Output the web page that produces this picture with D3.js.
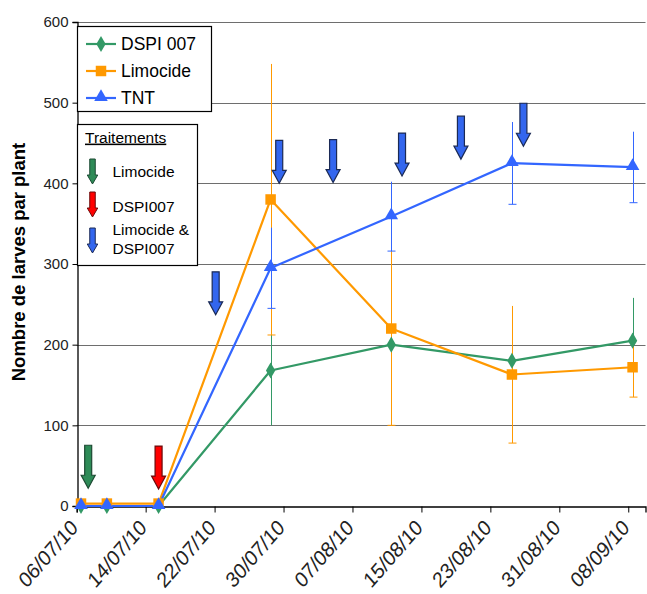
<!DOCTYPE html>
<html>
<head>
<meta charset="utf-8">
<script src="https://cdn.jsdelivr.net/npm/d3@7"></script>
<style>
  html, body { margin: 0; padding: 0; background: #fff; }
  svg { display: block; font-family: "Liberation Sans", Arial, sans-serif; }
</style>
</head>
<body>
<svg id="chart" width="647" height="594"></svg>
<script>
// Sampling dates and larvae counts per plant
const dates = ["2010-07-06", "2010-07-09", "2010-07-15", "2010-07-28", "2010-08-11", "2010-08-25", "2010-09-08"];
const dspi007 = [0, 0, 0, 168, 200, 180, 205];
const dspi007Err = [0, 0, 0, 68, 0, 0, 53];
const limocide = [3, 3, 3, 380, 220, 163, 172];
const limocideErr = [0, 0, 0, 168, 120, 85, 37];
const tnt = [0, 0, 0, 295, 359, 425, 420];
const tntErr = [0, 0, 0, 50, 43, 51, 44];

// Axis ticks
const xTickDates = ["2010-07-06", "2010-07-14", "2010-07-22", "2010-07-30", "2010-08-07", "2010-08-15", "2010-08-23", "2010-08-31", "2010-09-08"];
const yTicks = [0, 100, 200, 300, 400, 500, 600];

// Treatment applications: date/time of arrow and the count level its tip points at
const treatLimocide = [{ t: "2010-07-07T08:00", v: 22 }];
const treatDspi = [{ t: "2010-07-15T12:00", v: 21 }];
const treatBoth = [
  { t: "2010-07-22T03:00", v: 237 },
  { t: "2010-07-29T12:00", v: 400 },
  { t: "2010-08-04T18:00", v: 401 },
  { t: "2010-08-12T18:00", v: 409 },
  { t: "2010-08-19T14:00", v: 430 },
  { t: "2010-08-26T20:00", v: 446 }
];

const seriesNames = ["DSPI 007", "Limocide", "TNT"];
const treatNames = ["Limocide", "DSPI007", "Limocide &", "DSPI007"];

const colors = { green: "#339966", orange: "#FF9900", blue: "#3366FF" };

const svg = d3.select("#chart");
const parse = d3.utcParse("%Y-%m-%d");
const parseT = d3.utcParse("%Y-%m-%dT%H:%M");
const fmt = d3.utcFormat("%d/%m/%y");

const x = d3.scaleUtc()
  .domain([parse("2010-07-06"), parse("2010-09-10")])
  .range([76.7, 645.5]);
const y = d3.scaleLinear().domain([0, 600]).range([506, 22]);

// points sit in the middle of their day
const px = d => x(d3.utcHour.offset(parse(d), 12));

// Horizontal gridlines
svg.append("g").selectAll("line")
  .data(yTicks.filter(v => v > 0))
  .join("line")
  .attr("x1", x.range()[0]).attr("x2", x.range()[1])
  .attr("y1", d => Math.round(y(d)) + 0.5).attr("y2", d => Math.round(y(d)) + 0.5)
  .attr("stroke", "#6e6e6e").attr("stroke-width", 1.2);

// Y axis
const yAxis = svg.append("g")
  .attr("transform", `translate(${Math.round(x.range()[0]) + 0.5},0)`)
  .call(d3.axisLeft(y).tickValues(yTicks).tickSize(5).tickPadding(4));
yAxis.select(".domain").attr("stroke", "#000").attr("stroke-width", 1.3);
yAxis.selectAll(".tick line").attr("stroke", "#000");
yAxis.selectAll(".tick text").attr("font-size", 15).attr("fill", "#222")
  .attr("font-family", "Liberation Sans, Arial, sans-serif");

// X axis
const xAxis = svg.append("g")
  .attr("transform", `translate(0,${Math.round(y(0)) + 0.5})`)
  .call(d3.axisBottom(x).tickValues(xTickDates.map(parse)).tickFormat(fmt).tickSize(6).tickPadding(6));
xAxis.select(".domain").attr("stroke", "#000").attr("stroke-width", 1.3);
xAxis.selectAll(".tick line").attr("stroke", "#000");
xAxis.selectAll(".tick text")
  .attr("font-size", 19).attr("fill", "#222")
  .attr("font-family", "Liberation Sans, Arial, sans-serif")
  .attr("text-anchor", "end")
  .attr("dy", "0.35em")
  .attr("transform", "translate(-3,17) scale(1,1.15) rotate(-45)")
  .attr("y", 0).attr("x", 0);

// Y axis title
svg.append("text")
  .attr("transform", `translate(25,${262}) rotate(-90)`)
  .attr("text-anchor", "middle")
  .attr("font-size", 18.5).attr("font-weight", "bold").attr("fill", "#000")
  .text("Nombre de larves par plant");

const series = [
  { name: seriesNames[0], vals: dspi007, err: dspi007Err, color: colors.green, sym: d3.symbolDiamond, size: 75, cap: false },
  { name: seriesNames[1], vals: limocide, err: limocideErr, color: colors.orange, sym: d3.symbolSquare, size: 110, cap: true },
  { name: seriesNames[2], vals: tnt, err: tntErr, color: colors.blue, sym: d3.symbolTriangle, size: 80, cap: true }
];

// Error bars (cap on the lower end only)
series.forEach(s => {
  const g = svg.append("g").attr("stroke", s.color).attr("stroke-width", 1);
  dates.forEach((d, i) => {
    if (!s.err[i]) return;
    const cx = Math.round(px(d)) + 0.5;
    const y1 = y(s.vals[i] - s.err[i]), y2 = y(s.vals[i] + s.err[i]);
    g.append("line").attr("x1", cx).attr("x2", cx).attr("y1", y1).attr("y2", y2);
    if (s.cap) g.append("line").attr("x1", cx - 4).attr("x2", cx + 4).attr("y1", y1).attr("y2", y1);
  });
});

// Lines
const line = d3.line().x((d, i) => px(dates[i])).y(d => y(d));
series.forEach(s => {
  svg.append("path").datum(s.vals)
    .attr("d", line).attr("fill", "none")
    .attr("stroke", s.color).attr("stroke-width", 2.2).attr("stroke-linejoin", "round");
});

// Markers
series.forEach(s => {
  svg.append("g").selectAll("path")
    .data(s.vals)
    .join("path")
    .attr("transform", (d, i) => `translate(${px(dates[i])},${y(d) + (s.sym === d3.symbolTriangle ? -1 : 0)})`)
    .attr("d", d3.symbol(s.sym, s.size))
    .attr("fill", s.color);
});

// Block arrow shape, tip at (0,0)
function arrowPath(len, shaft, head, headLen) {
  return `M${-shaft / 2},${-len} L${shaft / 2},${-len} L${shaft / 2},${-headLen} L${head / 2},${-headLen} L0,0 L${-head / 2},${-headLen} L${-shaft / 2},${-headLen} Z`;
}
const arrowStyles = {
  green: { fill: "#2E8B57", stroke: "#1d4a33" },
  red: { fill: "#FF0000", stroke: "#6b0a0a" },
  blue: { fill: "#3366EE", stroke: "#1b2a55" }
};
function drawArrows(list, style) {
  svg.append("g").selectAll("path")
    .data(list)
    .join("path")
    .attr("transform", d => `translate(${x(parseT(d.t))},${y(d.v)})`)
    .attr("d", arrowPath(43, 7, 14, 13))
    .attr("fill", style.fill).attr("stroke", style.stroke).attr("stroke-width", 1.2)
    .attr("stroke-linejoin", "miter");
}
drawArrows(treatLimocide, arrowStyles.green);
drawArrows(treatDspi, arrowStyles.red);
drawArrows(treatBoth, arrowStyles.blue);

// Series legend
const leg1 = svg.append("g");
leg1.append("rect").attr("x", 77.5).attr("y", 26.5).attr("width", 134).attr("height", 85)
  .attr("fill", "#fff").attr("stroke", "#000").attr("stroke-width", 1.2);
series.forEach((s, i) => {
  const cy = 44 + i * 27;
  leg1.append("line").attr("x1", 86).attr("x2", 116).attr("y1", cy).attr("y2", cy)
    .attr("stroke", s.color).attr("stroke-width", 2.2);
  leg1.append("path").attr("transform", `translate(101,${cy + (s.sym === d3.symbolTriangle ? -1 : 0)})`)
    .attr("d", d3.symbol(s.sym, s.size)).attr("fill", s.color);
  leg1.append("text").attr("x", 121).attr("y", cy).attr("dy", "0.36em")
    .attr("font-size", 17.5).attr("fill", "#000").text(s.name);
});

// Treatment legend
const leg2 = svg.append("g");
leg2.append("rect").attr("x", 77.5).attr("y", 124.5).attr("width", 120).attr("height", 141)
  .attr("fill", "#fff").attr("stroke", "#000").attr("stroke-width", 1.2);
leg2.append("text").attr("x", 85).attr("y", 137).attr("dy", "0.36em")
  .attr("font-size", 15.5).attr("fill", "#000")
  .attr("text-decoration", "underline").text("Traitements");
const legArrows = [
  { tipY: 184, style: arrowStyles.green },
  { tipY: 217, style: arrowStyles.red },
  { tipY: 253, style: arrowStyles.blue }
];
legArrows.forEach(a => {
  leg2.append("path").attr("transform", `translate(92.5,${a.tipY})`)
    .attr("d", arrowPath(25, 5.5, 10.5, 9))
    .attr("fill", a.style.fill).attr("stroke", a.style.stroke).attr("stroke-width", 1);
});
const legTextY = [171.5, 206, 229.5, 248.5];
treatNames.forEach((t, i) => {
  leg2.append("text").attr("x", 112.5).attr("y", legTextY[i]).attr("dy", "0.36em")
    .attr("font-size", 15.5).attr("fill", "#000").text(t);
});
</script>
</body>
</html>
